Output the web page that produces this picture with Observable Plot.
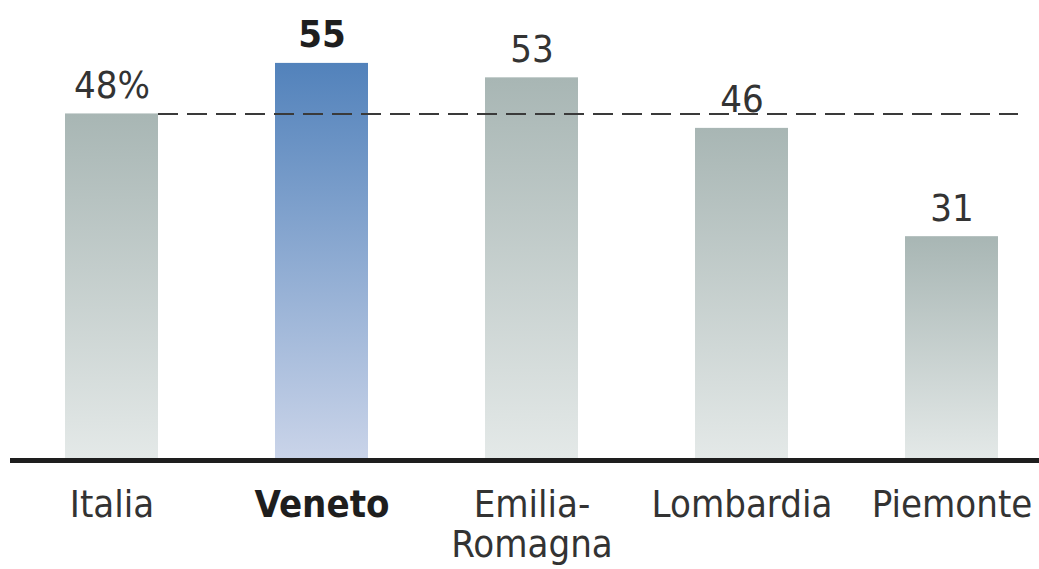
<!DOCTYPE html>
<html><head><meta charset="utf-8">
<script src="https://cdn.jsdelivr.net/npm/d3@7"></script>
<script src="https://cdn.jsdelivr.net/npm/@observablehq/plot@0.6"></script>
<style>body{margin:0;background:#fff;overflow:hidden}</style>
</head><body><div id="chart"></div>
<script>
const regions = ["Italia", "Veneto", "Emilia-Romagna", "Lombardia", "Piemonte"];
const axisLabels = ["Italia", "Veneto", "Emilia-\nRomagna", "Lombardia", "Piemonte"];
const values = [48, 55, 53, 46, 31];
const valueLabels = ["48%", "55", "53", "46", "31"];
const highlight = "Veneto";
const reference = 48;

const data = regions.map((r, i) => ({region: r, value: values[i], label: valueLabels[i], axis: axisLabels[i], hi: r === highlight}));
const rest = data.filter(d => !d.hi);
const hi = data.filter(d => d.hi);
const font = "'Liberation Sans Narrow','Arial Narrow','DejaVu Sans Condensed',sans-serif";
const fs = 38;

const plot = Plot.plot({
  width: 1039, height: 569,
  marginLeft: 10, marginRight: 0, marginTop: 0, marginBottom: 109,
  style: {fontFamily: font, background: "#fff", overflow: "visible"},
  x: {domain: regions, range: [6.5, 1056.5], paddingInner: 0.557, paddingOuter: 0.2785, axis: null},
  y: {domain: [0, 60], range: [460, 26.8], axis: null},
  marks: [
    Plot.barY(rest, {x: "region", y: "value", fill: "url(#gradGrey)"}),
    Plot.barY(hi, {x: "region", y: "value", fill: "url(#gradBlue)"}),
    Plot.ruleY([reference], {stroke: "#3a3a3a", strokeWidth: 2, strokeDasharray: "20,9", insetLeft: 148, insetRight: 21}),
    Plot.ruleY([0], {stroke: "#1e1e1e", strokeWidth: 5}),
    Plot.text(rest, {x: "region", y: "value", text: "label", dy: -16, lineAnchor: "bottom", fontSize: fs, fill: "#333"}),
    Plot.text(hi, {x: "region", y: "value", text: "label", dy: -16, lineAnchor: "bottom", fontSize: fs, fontWeight: "bold", fill: "#1e1e1e"}),
    Plot.text(rest, {x: "region", y: () => 0, text: "axis", dy: 28, lineAnchor: "top", lineHeight: 1.05, fontSize: fs, fill: "#333"}),
    Plot.text(hi, {x: "region", y: () => 0, text: "axis", dy: 28, lineAnchor: "top", lineHeight: 1.05, fontSize: fs, fontWeight: "bold", fill: "#1e1e1e"})
  ]
});

const svg = d3.select(plot);
const defs = svg.insert("defs", ":first-child");
function grad(id, top, bottom) {
  const g = defs.append("linearGradient").attr("id", id).attr("x1", 0).attr("y1", 0).attr("x2", 0).attr("y2", 1);
  g.append("stop").attr("offset", 0).attr("stop-color", top);
  g.append("stop").attr("offset", 1).attr("stop-color", bottom);
}
grad("gradGrey", "#a8b6b4", "#e4e9e8");
grad("gradBlue", "#5282bb", "#cad4e9");
document.getElementById("chart").appendChild(plot);
</script>
</body></html>
